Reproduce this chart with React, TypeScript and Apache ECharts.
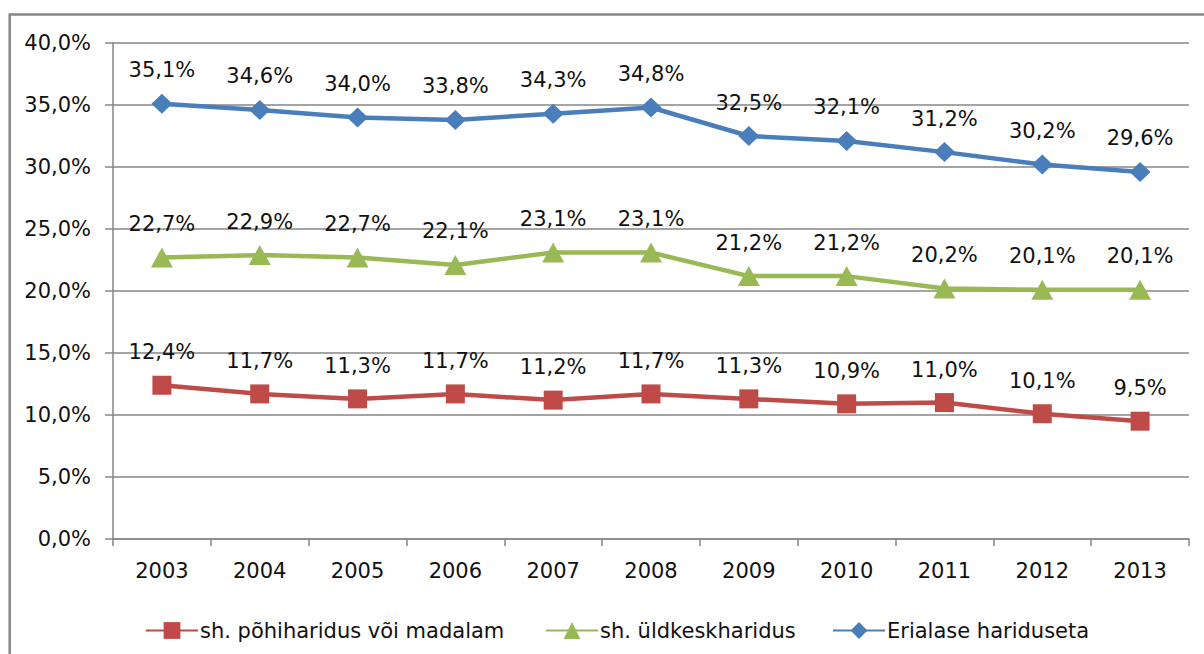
import React, { useEffect, useRef } from "react";
import * as echarts from "echarts";

const years = ["2003", "2004", "2005", "2006", "2007", "2008", "2009", "2010", "2011", "2012", "2013"];
const pohiharidus = [12.4, 11.7, 11.3, 11.7, 11.2, 11.7, 11.3, 10.9, 11.0, 10.1, 9.5];
const uldkeskharidus = [22.7, 22.9, 22.7, 22.1, 23.1, 23.1, 21.2, 21.2, 20.2, 20.1, 20.1];
const erialaseta = [35.1, 34.6, 34.0, 33.8, 34.3, 34.8, 32.5, 32.1, 31.2, 30.2, 29.6];
const seriesNames = ["sh. põhiharidus või madalam", "sh. üldkeskharidus", "Erialase hariduseta"];

const FONT = "DejaVu Sans";
const FS = 21;
const TXT = "#111111";
const fmt = (v: number) => v.toFixed(1).replace(".", ",") + "%";

export default function App() {
  const ref = useRef<HTMLDivElement>(null);
  useEffect(() => {
    document.body.style.margin = "0";
    const chart = echarts.init(ref.current!, null, { renderer: "svg" });
    const mk = (name: string, data: number[], color: string, symbol: string, size: any) => ({
      name,
      type: "line",
      data,
      symbol,
      symbolSize: size,
      showAllSymbol: true,
      lineStyle: { color, width: 4.5 },
      itemStyle: { color },
      label: {
        show: true,
        position: "top",
        distance: 13,
        formatter: (p: any) => fmt(p.value),
        fontFamily: FONT,
        fontSize: FS,
        color: TXT,
      },
    });
    const legendBase = {
      top: 615,
      itemWidth: 52,
      itemHeight: 21,
      textStyle: { fontFamily: FONT, fontSize: FS, color: TXT, padding: [0, 0, 0, -3] },
    };
    chart.setOption({
      animation: false,
      backgroundColor: "#ffffff",
      textStyle: { fontFamily: FONT },
      graphic: [
        {
          type: "rect",
          shape: { x: 9.7, y: 14.5, width: 1300, height: 800 },
          style: { fill: "none", stroke: "#868686", lineWidth: 2.5 },
          silent: true,
          z: -1,
        },
      ],
      grid: { left: 113, right: 15, top: 43, bottom: 115, containLabel: false },
      xAxis: {
        type: "category",
        data: years,
        boundaryGap: true,
        axisLine: { lineStyle: { color: "#868686", width: 1.5 } },
        axisTick: { show: true, length: 7, alignWithLabel: false, lineStyle: { color: "#868686", width: 1.5 } },
        axisLabel: { fontFamily: FONT, fontSize: FS, color: TXT, margin: 21 },
      },
      yAxis: {
        type: "value",
        min: 0,
        max: 40,
        interval: 5,
        axisLine: { show: true, lineStyle: { color: "#868686", width: 1.5 } },
        axisTick: { show: true, length: 8, lineStyle: { color: "#868686", width: 1.5 } },
        splitLine: { show: true, lineStyle: { color: "#868686", width: 1.5 } },
        axisLabel: {
          fontFamily: FONT,
          fontSize: FS,
          color: TXT,
          margin: 22,
          formatter: (v: number) => fmt(v),
        },
      },
      legend: [
        { ...legendBase, left: 140, data: [seriesNames[0]] },
        { ...legendBase, left: 540, data: [seriesNames[1]] },
        { ...legendBase, left: 827, data: [seriesNames[2]] },
      ],
      series: [
        mk(seriesNames[0], pohiharidus, "#BE4B48", "rect", [19, 19]),
        mk(seriesNames[1], uldkeskharidus, "#98B954", "triangle", [22, 20]),
        mk(seriesNames[2], erialaseta, "#4A7EBB", "diamond", [21, 20]),
      ],
    });
    return () => chart.dispose();
  }, []);
  return <div ref={ref} style={{ width: 1204, height: 654 }} />;
}
